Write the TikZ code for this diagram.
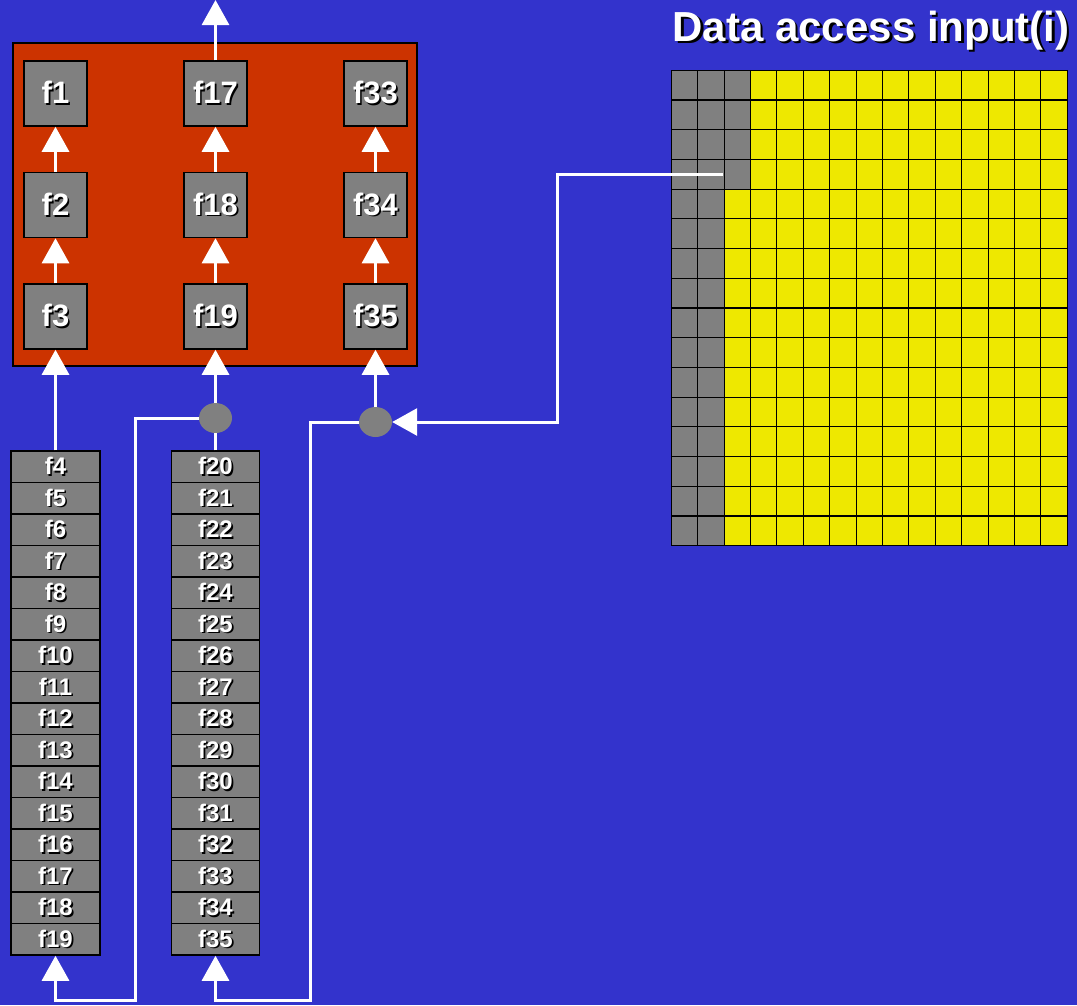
\documentclass[tikz,border=0pt]{standalone}
\usepackage{fontspec}
\setmainfont{Liberation Sans}
\usetikzlibrary{arrows.meta,shapes.geometric}
\definecolor{bg}{RGB}{51,51,204}
\definecolor{redbox}{RGB}{204,51,0}
\definecolor{cellgray}{RGB}{128,128,128}
\definecolor{cellyel}{RGB}{238,232,0}
\newcommand\shtxt[1]{\rlap{\kern1.6pt\raisebox{-1.6pt}{\textcolor{black}{#1}}}#1}
\newcommand\shtxtbig[1]{\rlap{\kern2.4pt\raisebox{-2.4pt}{\textcolor{black}{#1}}}#1}
\begin{document}
\begin{tikzpicture}[x=1pt,y=-1pt,
  fbox/.style={draw=black,line width=1.5pt,fill=cellgray,minimum width=63pt,minimum height=65pt,inner sep=0pt,text=white,font=\fontsize{31}{31}\bfseries\selectfont},
  sbox/.style={draw=black,line width=1.5pt,fill=cellgray,minimum height=31.5pt,inner sep=0pt,text=white,font=\fontsize{24}{24}\bfseries\selectfont},
  wire/.style={white,line width=3pt},
  arr/.style={wire,-{Triangle[width=27pt,length=25pt]}},
  joint/.style={ellipse,fill=cellgray,minimum width=33pt,minimum height=30pt,inner sep=0pt},
  gridline/.style={black,line width=1.1pt}
]
\useasboundingbox (0,0) rectangle (1077,1005);
\fill[bg] (0,0) rectangle (1077,1005);
\clip (0,0) rectangle (1077,1005);

% title
\node[anchor=base,text=white,font=\fontsize{42}{42}\bfseries\selectfont,inner sep=0pt] (title) at (871,41) {\shtxtbig{Data access input(i)}};

% red frame
\node[draw=black,line width=1.5pt,fill=redbox,minimum width=404pt,minimum height=323pt,inner sep=0pt] (frame) at (215,204.5) {};

% boxes in frame
\node[fbox] (f1)  at (55.5,93.5) {\shtxt{f1}};
\node[fbox] (f2)  at (55.5,205) {\shtxt{f2}};
\node[fbox] (f3)  at (55.5,316.5) {\shtxt{f3}};
\node[fbox] (f17) at (215.5,93.5) {\shtxt{f17}};
\node[fbox] (f18) at (215.5,205) {\shtxt{f18}};
\node[fbox] (f19) at (215.5,316.5) {\shtxt{f19}};
\node[fbox] (f33) at (375.5,93.5) {\shtxt{f33}};
\node[fbox] (f34) at (375.5,205) {\shtxt{f34}};
\node[fbox] (f35) at (375.5,316.5) {\shtxt{f35}};

\draw[arr] (f2.north) -- (f1.south);
\draw[arr] (f3.north) -- (f2.south);
\draw[arr] (f18.north) -- (f17.south);
\draw[arr] (f19.north) -- (f18.south);
\draw[arr] (f34.north) -- (f33.south);
\draw[arr] (f35.north) -- (f34.south);

\coordinate (top) at (215.5,0);
\draw[arr] (f17.north) -- (top);

% stacks
\foreach \i in {4,...,19} {
  \pgfmathsetmacro\yy{451+31.5*(\i-4+0.5)}
  \node[sbox,minimum width=89pt] (s\i) at (55.5,\yy) {\shtxt{f\i}};
}
\foreach \i in {20,...,35} {
  \pgfmathsetmacro\yy{451+31.5*(\i-20+0.5)}
  \node[sbox,minimum width=88pt] (s\i) at (215.5,\yy) {\shtxt{f\i}};
}

% joints
\node[joint] (j1) at (215.5,418) {};
\node[joint] (j2) at (375.5,422) {};

\draw[arr] (s4.north) -- (f3.south);
\draw[wire] (s20.north) -- (j1.south);
\draw[arr] (j1.north) -- (f19.south);
\draw[arr] (j2.north) -- (f35.south);

\coordinate (b1) at (135,1000);
\coordinate (b2) at (310,1000);
\draw[arr] (j1.west) -| (b1) -| (s19.south);
\draw[arr] (j2.west) -| (b2) -| (s35.south);

% grid
\fill[cellyel] (671.3,70.3) rectangle (1067.3,545.7);
\fill[cellgray] (671.3,70.3) rectangle (724.1,545.7);
\fill[cellgray] (724.1,70.3) rectangle (750.5,189.1);
\foreach \c in {0,...,15} \draw[gridline] ({671.3+26.4*\c},70.3) -- ({671.3+26.4*\c},545.7);
\foreach \r in {0,...,16} \draw[gridline] (671.3,{70.3+29.71*\r}) -- (1067.3,{70.3+29.71*\r});

\coordinate (g) at (723,174.5);
\coordinate (r) at (557,174.5);
\draw[arr] (g) -- (r) |- (j2.east);
\end{tikzpicture}
\end{document}
